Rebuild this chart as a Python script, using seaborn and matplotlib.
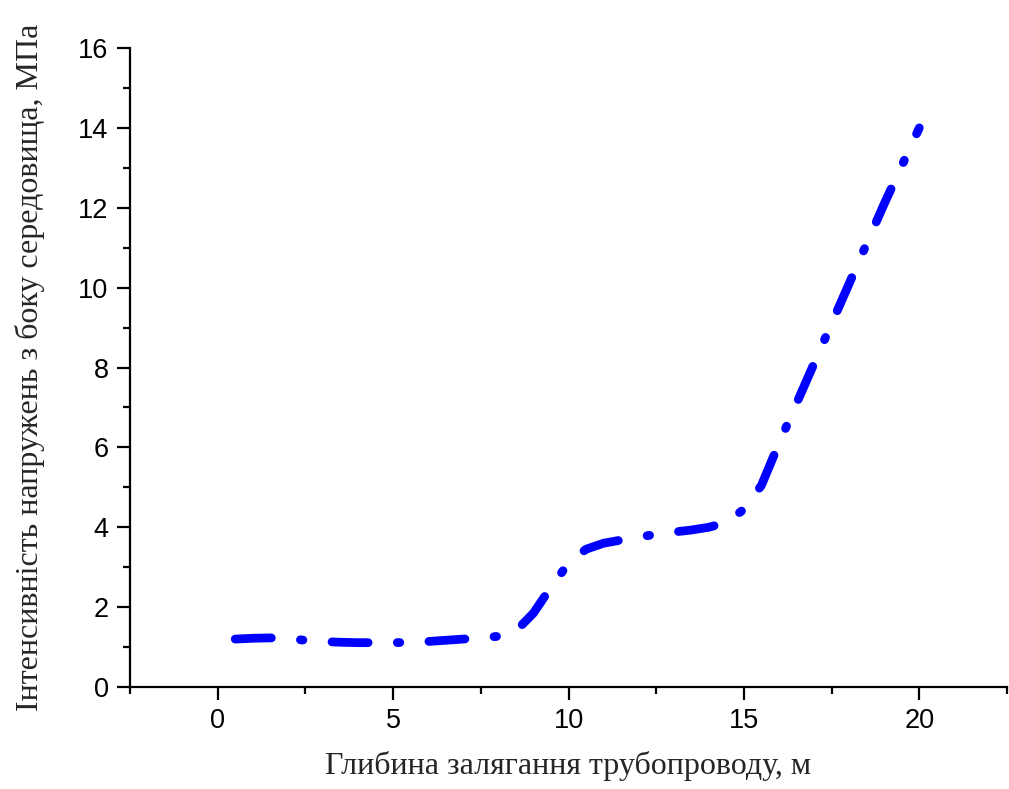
import matplotlib
matplotlib.use("Agg")
import matplotlib.pyplot as plt
import seaborn as sns
import pandas as pd
from matplotlib.ticker import MultipleLocator

depth = [0.5, 1, 1.5, 2, 2.5, 3, 3.5, 4, 4.5, 5, 5.5, 6, 6.5, 7, 7.5, 8, 8.5, 9, 9.5, 10,
         10.5, 11, 11.5, 12, 12.5, 13, 13.5, 14, 14.5, 15, 15.5, 16, 16.5, 17, 17.5, 18,
         18.5, 19, 19.5, 20]
stress = [1.20, 1.22, 1.23, 1.21, 1.17, 1.14, 1.12, 1.11, 1.11, 1.11, 1.12, 1.14, 1.17, 1.20,
          1.23, 1.27, 1.40, 1.85, 2.50, 3.10, 3.45, 3.60, 3.68, 3.76, 3.82, 3.88, 3.93, 4.00,
          4.12, 4.45, 5.05, 6.10, 7.10, 8.10, 9.10, 10.10, 11.10, 12.10, 13.05, 14.00]
x_ticks = [0, 5, 10, 15, 20]
y_ticks = [0, 2, 4, 6, 8, 10, 12, 14, 16]
x_label = "Глибина залягання трубопроводу, м"
y_label = "Інтенсивність напружень з боку середовища, МПа"

df = pd.DataFrame({"depth": depth, "stress": stress})

sns.set_style("ticks")
plt.rcParams["font.family"] = ["Liberation Sans", "DejaVu Sans"]
plt.rcParams["lines.scale_dashes"] = False

fig = plt.figure(figsize=(10.09, 7.89), dpi=100)
ax = fig.add_axes([130 / 1009, 102 / 789, 877 / 1009, 639 / 789])

sns.lineplot(data=df, x="depth", y="stress", ax=ax, color="#0000FF", linewidth=6.3,
             sort=False, estimator=None)
line = ax.get_lines()[0]
line.set_dashes((26, 21, 1.8, 21))
line.set_dash_capstyle("round")
line.set_solid_capstyle("round")

ax.set_xlim(-2.5, 22.5)
ax.set_ylim(0, 16)
ax.set_xticks(x_ticks)
ax.set_yticks(y_ticks)
ax.xaxis.set_minor_locator(MultipleLocator(2.5))
ax.yaxis.set_minor_locator(MultipleLocator(1))

for s in ["top", "right"]:
    ax.spines[s].set_visible(False)
for s in ["left", "bottom"]:
    ax.spines[s].set_linewidth(1.6)
    ax.spines[s].set_color("black")

ax.tick_params(which="major", direction="out", length=9.4, width=1.6, labelsize=19.5,
               colors="black", pad=6)
ax.tick_params(axis="x", which="major", pad=6)
ax.tick_params(which="minor", direction="out", length=5, width=1.6, colors="black")

ax.set_xlabel(x_label, fontfamily=["Liberation Serif", "DejaVu Serif"], fontsize=23, labelpad=12)
ax.set_ylabel(y_label, fontfamily=["Liberation Serif", "DejaVu Serif"], fontsize=23, labelpad=24)

fig.savefig("out.png", dpi=100)
